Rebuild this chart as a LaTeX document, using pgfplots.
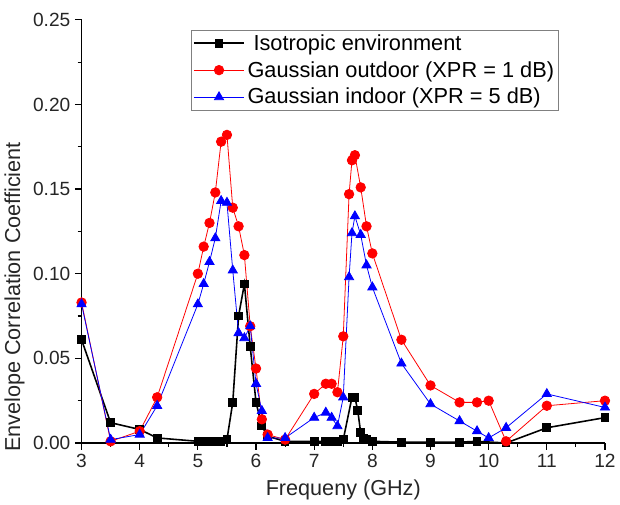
\documentclass[border=0pt]{standalone}
\usepackage{fontspec}
\setmainfont{Liberation Sans}
\usepackage{pgfplots}
\pgfplotsset{compat=1.18}

\pgfplotstableread{
f v
3 0.061
3.5 0.012
4 0.008
4.3 0.003
5.0 0.001
5.1 0.001
5.2 0.001
5.3 0.001
5.4 0.001
5.5 0.002
5.6 0.024
5.7 0.075
5.8 0.094
5.9 0.057
6.0 0.024
6.1 0.010
6.2 0.004
6.5 0.001
7.0 0.001
7.2 0.001
7.3 0.001
7.4 0.001
7.5 0.002
7.65 0.027
7.7 0.027
7.75 0.019
7.8 0.006
7.85 0.003
7.9 0.002
8.0 0.001
8.5 0.0005
9.0 0.0005
9.5 0.0005
9.8 0.001
10.3 0.0
11 0.009
12 0.015
}\isotropic

\pgfplotstableread{
f v
3 0.083
3.5 0.001
4 0.007
4.3 0.027
5.0 0.100
5.1 0.116
5.2 0.130
5.3 0.148
5.4 0.178
5.5 0.182
5.6 0.139
5.7 0.128
5.8 0.111
5.9 0.069
6.0 0.044
6.1 0.014
6.2 0.005
6.5 0.002
7.0 0.029
7.2 0.035
7.3 0.035
7.4 0.030
7.5 0.063
7.6 0.147
7.65 0.167
7.7 0.170
7.8 0.151
7.9 0.128
8.0 0.112
8.5 0.061
9.0 0.034
9.5 0.024
9.8 0.024
10.0 0.025
10.3 0.001
11 0.022
12 0.025
}\outdoor

\pgfplotstableread{
f v
3 0.082
3.5 0.002
4 0.005
4.3 0.022
5.0 0.082
5.1 0.094
5.2 0.107
5.3 0.121
5.4 0.143
5.5 0.142
5.6 0.102
5.7 0.065
5.8 0.062
5.9 0.069
6.0 0.035
6.1 0.019
6.2 0.003
6.5 0.003
7.0 0.015
7.2 0.018
7.3 0.015
7.4 0.010
7.5 0.027
7.6 0.098
7.65 0.124
7.7 0.134
7.8 0.123
7.9 0.105
8.0 0.092
8.5 0.047
9.0 0.023
9.5 0.013
9.8 0.007
10.0 0.003
10.3 0.009
11 0.029
12 0.021
}\indoor

\begin{document}
\begin{tikzpicture}
\begin{axis}[
    scale only axis,
    width=397pt, height=321pt,
    xmin=3, xmax=12, ymin=0, ymax=0.25,
    axis x line*=bottom, axis y line*=left,
    axis line style={black, line width=0.9pt},
    xtick={3,4,...,12},
    ytick={0,0.05,0.10,0.15,0.20,0.25},
    minor x tick num=1, minor y tick num=1,
    tick align=outside,
    major tick length=5pt, minor tick length=3pt,
    tick style={black, line width=0.9pt},
    /pgf/number format/assume math mode=true,
    yticklabel style={/pgf/number format/.cd, fixed, fixed zerofill, precision=2},
    scaled y ticks=false,
    tick label style={font=\fontsize{14.5}{17}\selectfont, text=black!85},
    label style={font=\fontsize{16.4}{19}\selectfont, text=black!85},
    xlabel={Frequeny (GHz)},
    ylabel={Envelope Correlation Coefficient},
    ylabel style={at={(axis description cs:-0.10,0.345)}, anchor=south},
    xlabel style={yshift=-2pt},
    legend style={at={(0.21,0.976)}, anchor=north west, draw=black!50, line width=0.6pt,
        font=\fontsize{16.5}{20}\selectfont, row sep=3pt, inner xsep=1pt, inner ysep=1pt,
        cells={anchor=west}},
    legend image code/.code={\draw[mark repeat=2, mark phase=2, #1]
        plot coordinates {(0pt,0pt) (19pt,0pt) (38pt,0pt)};},
]
\addplot[black, line width=1.2pt, mark=square*, mark size=2.7pt, mark options={solid}] table {\isotropic};
\addplot[red, line width=0.6pt, mark=*, mark size=3.6pt] table {\outdoor};
\addplot[blue, line width=0.6pt, mark=triangle*, mark size=4pt] table {\indoor};
\legend{\ Isotropic environment, Gaussian outdoor (XPR = 1 dB), Gaussian indoor (XPR = 5 dB)}
\end{axis}
\path (current axis.north west) -- ++(0,15pt);
\end{tikzpicture}
\end{document}
